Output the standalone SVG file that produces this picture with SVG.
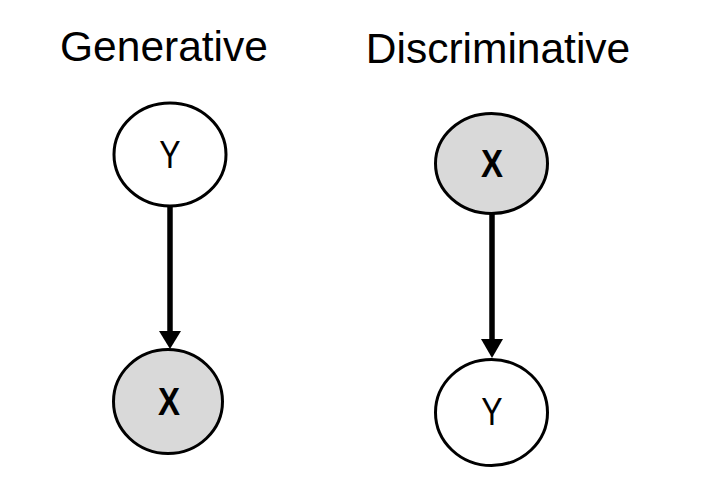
<svg xmlns="http://www.w3.org/2000/svg" width="708" height="498" viewBox="0 0 708 498">
<style>
.title{font-family:"Liberation Sans",Arial,sans-serif;font-size:42.5px;fill:#000;text-anchor:middle}
.node{stroke:#000;stroke-width:3}
.obs{fill:#d9d9d9}
.lat{fill:#fff}
.lbl{font-family:"Liberation Sans",Arial,sans-serif;font-size:32px;fill:#000;text-anchor:middle}
.b{font-weight:bold;font-size:33px}
.edge{stroke:#000;stroke-width:5.5;fill:none}
.head{fill:#000}
</style>
<rect width="708" height="498" fill="#fff"/>
<text class="title" x="164" y="61">Generative</text>
<text class="title" x="498" y="63">Discriminative</text>
<g id="connectors">
<line class="edge" x1="170" y1="207" x2="170" y2="332"/>
<path class="head" d="M159,331 L181,331 L170,349 Z"/>
<line class="edge" x1="492" y1="214" x2="492" y2="340"/>
<path class="head" d="M481,339 L503,339 L492,358 Z"/>
</g>
<g id="gen-y">
<ellipse class="node lat" cx="170" cy="154.5" rx="56" ry="51.5"/>
<text class="lbl" transform="translate(170,168) scale(1,1.2)">Y</text>
</g>
<g id="gen-x">
<ellipse class="node obs" cx="168" cy="401.5" rx="54.5" ry="52"/>
<text class="lbl b" transform="translate(169,415) scale(1,1.18)">X</text>
</g>
<g id="disc-x">
<ellipse class="node obs" cx="491.5" cy="163.5" rx="56" ry="50"/>
<text class="lbl b" transform="translate(492,177) scale(1,1.18)">X</text>
</g>
<g id="disc-y">
<ellipse class="node lat" cx="491.5" cy="412.5" rx="56" ry="53"/>
<text class="lbl" transform="translate(492,425) scale(1,1.2)">Y</text>
</g>
</svg>
